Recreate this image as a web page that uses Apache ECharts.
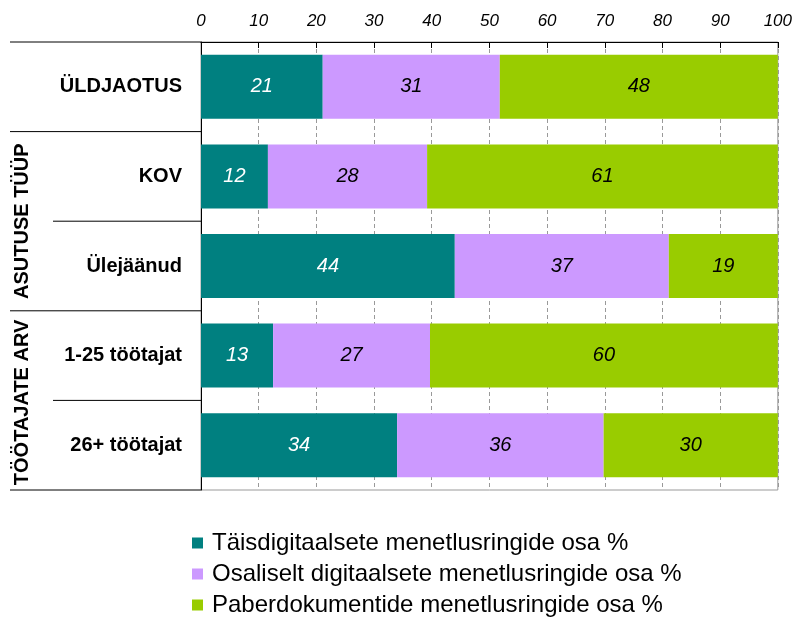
<!DOCTYPE html>
<html>
<head>
<meta charset="utf-8">
<script src="https://cdn.jsdelivr.net/npm/echarts@6/dist/echarts.min.js"></script>
<style>
  html, body { margin: 0; padding: 0; background: #fff; }
  #chart { width: 795px; height: 619px; }
</style>
</head>
<body>
<div id="chart"></div>
<script>
const categories = ['ÜLDJAOTUS', 'KOV', 'Ülejäänud', '1-25 töötajat', '26+ töötajat']
const seriesNames = [
  'Täisdigitaalsete menetlusringide osa %',
  'Osaliselt digitaalsete menetlusringide osa %',
  'Paberdokumentide menetlusringide osa %'
]
const fullDigital = [21.1, 11.6, 44.0, 12.5, 34.0]
const partDigital = [30.7, 27.6, 37.1, 27.2, 35.8]
const paper = [48.2, 60.8, 18.9, 60.3, 30.2]
const colors = ['#008080', '#CC99FF', '#99CC00']
const labelColors = ['#ffffff', '#000000', '#000000']

const gridLeft = 201
const gridTop = 42
const gridBottom = 490
const rowH = (gridBottom - gridTop) / categories.length

const chart = echarts.init(document.getElementById('chart'))

const lineStyle = { stroke: '#000', lineWidth: 1 }
const hLine = (x1, row) => ({
  type: 'line',
  shape: { x1: x1, y1: gridTop + rowH * row, x2: gridLeft, y2: gridTop + rowH * row },
  style: lineStyle
})

const option = {
  animation: false,
  grid: {
    left: gridLeft,
    right: 17,
    top: gridTop,
    bottom: 619 - gridBottom,
    show: true,
    borderColor: '#999',
    borderWidth: 1
  },
  xAxis: {
    type: 'value',
    position: 'top',
    min: 0,
    max: 100,
    interval: 10,
    axisLine: { show: true, lineStyle: { color: '#000', width: 1 } },
    axisTick: { show: true, inside: true, length: 6, lineStyle: { color: '#000' } },
    axisLabel: {
      fontFamily: 'Liberation Sans',
      fontStyle: 'italic',
      fontSize: 17,
      color: '#000',
      margin: 12
    },
    splitLine: { show: true, lineStyle: { color: '#999', type: [4, 3] } }
  },
  yAxis: {
    type: 'category',
    inverse: true,
    data: categories,
    axisLine: { show: true, lineStyle: { color: '#000', width: 1 } },
    axisTick: { show: false },
    axisLabel: {
      fontFamily: 'Liberation Sans',
      fontWeight: 'bold',
      fontSize: 20,
      color: '#000',
      margin: 19
    }
  },
  legend: {
    orient: 'vertical',
    left: 192,
    top: 531,
    height: 88,
    padding: 0,
    itemWidth: 11,
    itemHeight: 11,
    itemGap: 7,
    icon: 'rect',
    textStyle: {
      fontFamily: 'Liberation Sans',
      fontSize: 24,
      color: '#000',
      padding: [0, 0, 0, 4]
    },
    data: seriesNames
  },
  series: [fullDigital, partDigital, paper].map((values, i) => ({
    name: seriesNames[i],
    type: 'bar',
    stack: 'total',
    barWidth: 64,
    data: values,
    itemStyle: { color: colors[i] },
    label: {
      show: true,
      position: 'inside',
      formatter: (p) => Math.round(p.value),
      fontFamily: 'Liberation Sans',
      fontStyle: 'italic',
      fontSize: 20,
      color: labelColors[i]
    }
  })),
  graphic: [
    {
      type: 'line',
      shape: { x1: 10, y1: gridTop, x2: gridLeft, y2: gridTop },
      style: lineStyle
    },
    hLine(10, 1),
    hLine(53, 2),
    hLine(10, 3),
    hLine(53, 4),
    hLine(10, 5),
    {
      type: 'text',
      x: 22,
      y: gridTop + rowH * 2,
      rotation: Math.PI / 2,
      style: {
        text: 'ASUTUSE TÜÜP',
        fontFamily: 'Liberation Sans',
        fontWeight: 'bold',
        fontSize: 20,
        fill: '#000',
        align: 'center',
        verticalAlign: 'middle'
      }
    },
    {
      type: 'text',
      x: 22,
      y: gridTop + rowH * 4 + 2,
      rotation: Math.PI / 2,
      style: {
        text: 'TÖÖTAJATE ARV',
        fontFamily: 'Liberation Sans',
        fontWeight: 'bold',
        fontSize: 20,
        fill: '#000',
        align: 'center',
        verticalAlign: 'middle'
      }
    }
  ]
}
chart.setOption(option)
</script>
</body>
</html>
